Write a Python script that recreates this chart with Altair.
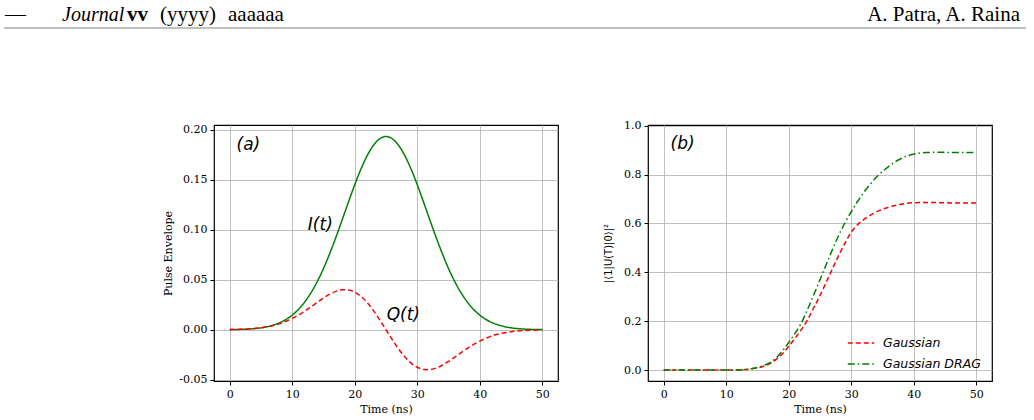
import altair as alt
import pandas as pd

# ---------------- data ----------------
t_ns = list(range(0, 51))

I_env = [0.0001, 0.0003, 0.0004, 0.0007, 0.0012, 0.0019, 0.0030, 0.0047, 0.0070, 0.0102,
         0.0145, 0.0203, 0.0277, 0.0369, 0.0480, 0.0611, 0.0761, 0.0925, 0.1099, 0.1276,
         0.1448, 0.1606, 0.1740, 0.1843, 0.1908, 0.1930, 0.1908, 0.1843, 0.1740, 0.1606,
         0.1448, 0.1276, 0.1099, 0.0925, 0.0761, 0.0611, 0.0480, 0.0369, 0.0277, 0.0203,
         0.0145, 0.0102, 0.0070, 0.0047, 0.0030, 0.0019, 0.0012, 0.0007, 0.0004, 0.0003,
         0.0001]

Q_env = [0.0002, 0.0003, 0.0005, 0.0008, 0.0013, 0.0020, 0.0030, 0.0043, 0.0061, 0.0084,
         0.0113, 0.0147, 0.0186, 0.0229, 0.0274, 0.0317, 0.0355, 0.0383, 0.0399, 0.0397,
         0.0375, 0.0333, 0.0270, 0.0191, 0.0099, 0.0000, -0.0099, -0.0191, -0.0270, -0.0333,
         -0.0375, -0.0397, -0.0399, -0.0383, -0.0355, -0.0317, -0.0274, -0.0229, -0.0186, -0.0147,
         -0.0113, -0.0084, -0.0061, -0.0043, -0.0030, -0.0020, -0.0013, -0.0008, -0.0005, -0.0003,
         -0.0002]

gauss_pop = [0.0, 0.0, 0.0, 0.0, 0.0, 0.0, 0.0, 0.0, 0.0, 0.0,
             0.0, 0.0, 0.0, 0.002, 0.005, 0.009, 0.016, 0.027, 0.044, 0.067,
             0.097, 0.130, 0.165, 0.205, 0.255, 0.305, 0.360, 0.415, 0.470, 0.520,
             0.565, 0.595, 0.616, 0.633, 0.647, 0.658, 0.667, 0.674, 0.679, 0.683,
             0.685, 0.686, 0.686, 0.686, 0.685, 0.685, 0.684, 0.684, 0.684, 0.684,
             0.684]

drag_pop = [0.0, 0.0, 0.0, 0.0, 0.0, 0.0, 0.0, 0.0, 0.0, 0.0,
            0.0, 0.0, 0.0, 0.002, 0.006, 0.011, 0.019, 0.031, 0.050, 0.078,
            0.113, 0.150, 0.192, 0.248, 0.308, 0.370, 0.432, 0.494, 0.552, 0.603,
            0.648, 0.690, 0.727, 0.760, 0.789, 0.813, 0.834, 0.852, 0.866, 0.877,
            0.884, 0.888, 0.890, 0.891, 0.891, 0.891, 0.890, 0.890, 0.890, 0.890,
            0.890]

series_a = ["I(t)", "Q(t)"]
series_b = ["Gaussian", "Gaussian DRAG"]
x_ticks = [0, 10, 20, 30, 40, 50]
ya_ticks = [-0.05, 0.0, 0.05, 0.10, 0.15, 0.20]
yb_ticks = [0.0, 0.2, 0.4, 0.6, 0.8, 1.0]

ann_a_text = ["(a)", "I(t)", "Q(t)"]
ann_a_x = [1.1, 12.5, 25.1]
ann_a_y = [0.185, 0.1046, 0.0150]
ann_b_text = ["(b)"]
ann_b_x = [1.1]
ann_b_y = [0.927]

header_left = ["\u2014", "Journal", "vv", "(yyyy)", "aaaaaa"]
header_right = "A. Patra, A. Raina"

# ---------------- frames ----------------
df_a = pd.DataFrame({
    "t": t_ns + t_ns,
    "v": I_env + Q_env,
    "s": [series_a[0]] * len(t_ns) + [series_a[1]] * len(t_ns),
})
df_b = pd.DataFrame({
    "t": t_ns + t_ns,
    "v": gauss_pop + drag_pop,
    "s": [series_b[0]] * len(t_ns) + [series_b[1]] * len(t_ns),
})
ann_a = pd.DataFrame({"x": ann_a_x, "y": ann_a_y, "text": ann_a_text})
ann_b = pd.DataFrame({"x": ann_b_x, "y": ann_b_y, "text": ann_b_text})

W, H = 344, 256

x_scale = alt.Scale(domain=[-2.5, 52.5], nice=False, zero=False)

def x_enc():
    return alt.X("t:Q", scale=x_scale,
                 axis=alt.Axis(values=x_ticks, format="d", title="Time (ns)", titlePadding=4))

# ---------------- panel a ----------------
ya = alt.Y("v:Q", scale=alt.Scale(domain=[-0.0512, 0.2045], nice=False, zero=False),
           axis=alt.Axis(values=ya_ticks,
                         labelExpr="replace(format(datum.value, '.2f'), '\u2212', '-')",
                         title="Pulse Envelope", titlePadding=5))

lines_a = alt.Chart(df_a).mark_line(strokeWidth=1.5, interpolate="monotone", clip=True).encode(
    x=x_enc(), y=ya,
    color=alt.Color("s:N", scale=alt.Scale(domain=series_a, range=["green", "red"]), legend=None),
    strokeDash=alt.StrokeDash("s:N", scale=alt.Scale(domain=series_a, range=[[1, 0], [5, 3]]), legend=None),
)
text_a = alt.Chart(ann_a).mark_text(align="left", baseline="middle", font="DejaVu Sans",
                                    fontStyle="italic", fontSize=17, color="black").encode(
    x=alt.X("x:Q", scale=x_scale), y=alt.Y("y:Q"), text="text:N")
panel_a = alt.layer(lines_a, text_a).properties(width=W, height=H)

# ---------------- panel b ----------------
yb = alt.Y("v:Q", scale=alt.Scale(domain=[-0.0446, 1.003], nice=False, zero=False),
           axis=alt.Axis(values=yb_ticks, format=".1f",
                         title="|\u27e81|U(T)|0\u27e9|\u00b2", titleFont="DejaVu Sans",
                         titleFontSize=10, titlePadding=10))

leg = dict(orient="none", legendX=199, legendY=204, title=None,
           symbolType="stroke", symbolSize=700, symbolStrokeWidth=1.5,
           labelFont="DejaVu Sans", labelFontStyle="italic",
           labelFontSize=12.5, labelOffset=8, rowPadding=-1, direction="vertical")

lines_b = alt.Chart(df_b).mark_line(strokeWidth=1.5, interpolate="monotone", clip=True).encode(
    x=x_enc(), y=yb,
    color=alt.Color("s:N", scale=alt.Scale(domain=series_b, range=["red", "green"]),
                    legend=alt.Legend(**leg)),
    strokeDash=alt.StrokeDash("s:N", scale=alt.Scale(domain=series_b, range=[[5, 3], [7, 3, 1.5, 3]]),
                              legend=alt.Legend(**leg)),
)
text_b = alt.Chart(ann_b).mark_text(align="left", baseline="middle", font="DejaVu Sans",
                                    fontStyle="italic", fontSize=17, color="black").encode(
    x=alt.X("x:Q", scale=x_scale), y=alt.Y("y:Q"), text="text:N")
panel_b = alt.layer(lines_b, text_b).properties(width=W, height=H)

# ---------------- spacer & header ----------------
spacer = alt.Chart(pd.DataFrame({"s": [""]})).mark_text().encode(
    text="s:N", x=alt.value(0), y=alt.value(0)
).properties(width=119, height=H, view=alt.ViewBackground(strokeOpacity=0))

hdr_x = [5, 62, 127, 160, 228]
hdr_style = [("normal", "normal", 21), ("italic", "normal", 20), ("normal", "bold", 21),
             ("normal", "normal", 21), ("normal", "normal", 21)]
hdr_layers = []
hdr_base = alt.Chart(pd.DataFrame({"d": [0]}))
for txt, hx, (fs, fw, fz) in zip(header_left, hdr_x, hdr_style):
    hdr_layers.append(hdr_base.mark_text(align="left", baseline="alphabetic", font="Liberation Serif",
                                         fontSize=fz, fontStyle=fs, fontWeight=fw, color="black",
                                         text=txt).encode(x=alt.value(hx), y=alt.value(21)))
hdr_layers.append(hdr_base.mark_text(align="right", baseline="alphabetic", font="Liberation Serif",
                                     fontSize=21, color="black", text=header_right)
                  .encode(x=alt.value(1020), y=alt.value(21)))
hdr_layers.append(hdr_base.mark_rule(color="#808080", strokeWidth=1).encode(
    x=alt.value(4), x2=alt.value(1026), y=alt.value(28)))
header = alt.layer(*hdr_layers).properties(width=1030, height=30,
                                           view=alt.ViewBackground(strokeOpacity=0))

row = alt.hconcat(spacer, panel_a, panel_b, spacing=43).resolve_scale(
    color="independent", strokeDash="independent"
).resolve_legend(color="independent", strokeDash="independent")

chart = alt.vconcat(header, row, spacing=89).properties(padding=0).configure_view(
    stroke="black", strokeWidth=1.2
).configure_axis(
    grid=True, gridColor="#b0b0b0", gridWidth=0.8, domain=False,
    tickColor="black", tickSize=4, tickWidth=1,
    labelFont="DejaVu Serif", labelFontSize=11, labelColor="black", labelPadding=3,
    titleFont="DejaVu Serif", titleFontSize=11, titleFontWeight="normal", titleColor="black",
).configure_legend(labelColor="black")

chart.save("out.html", embed_options={"renderer": "svg", "actions": False})
